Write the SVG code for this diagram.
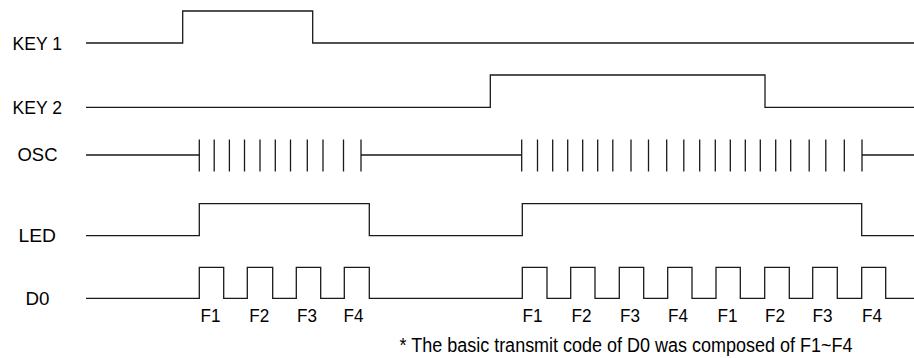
<svg xmlns="http://www.w3.org/2000/svg" width="914" height="358" viewBox="0 0 914 358">
<style>
.w{fill:none;stroke:#1a1a1a;stroke-width:1.3}
.lbl{font-family:"Liberation Sans",Arial,sans-serif;font-size:19px;fill:#000}
.f{font-family:"Liberation Sans",Arial,sans-serif;font-size:19px;fill:#000}
</style>
<rect width="914" height="358" fill="#fff"/>
<g id="key1">
<text class="lbl" x="12.5" y="49.5" textLength="49.5" lengthAdjust="spacingAndGlyphs">KEY 1</text>
<path class="w" d="M86,43H182.7V11H312.7V43H914"/>
</g>
<g id="key2">
<text class="lbl" x="12.5" y="114" textLength="49.5" lengthAdjust="spacingAndGlyphs">KEY 2</text>
<path class="w" d="M86,107.3H490.3V75H765V107.3H914"/>
</g>
<g id="osc">
<text class="lbl" x="17.5" y="160.5" textLength="40" lengthAdjust="spacingAndGlyphs">OSC</text>
<path class="w" d="M86,155H199.3M361,155H521.7M862,155H914"/>
<path class="w" d="M199.3,139.5V171.5M214.2,139.5V171.5M229.4,139.5V171.5M244.5,139.5V171.5M260,139.5V171.5M275.3,139.5V171.5M290.5,139.5V171.5M307.3,139.5V171.5M323,139.5V171.5M343.5,139.5V171.5M361,139.5V171.5
M521.7,139.5V171.5M537.5,139.5V171.5M552.7,139.5V171.5M567.7,139.5V171.5M582.7,139.5V171.5M597.7,139.5V171.5M612.8,139.5V171.5M631,139.5V171.5M648.5,139.5V171.5M666.7,139.5V171.5M683.8,139.5V171.5M699.7,139.5V171.5M715.3,139.5V171.5M730.3,139.5V171.5M745.3,139.5V171.5M760.3,139.5V171.5M775.7,139.5V171.5M790.7,139.5V171.5M809.2,139.5V171.5M825.8,139.5V171.5M844.3,139.5V171.5M862,139.5V171.5"/>
</g>
<g id="led">
<text class="lbl" x="18.5" y="242" textLength="37.5" lengthAdjust="spacingAndGlyphs">LED</text>
<path class="w" d="M86,235.7H199.3V203.7H369.3V235.7H522.3V203.7H861.7V235.7H914"/>
</g>
<g id="d0">
<text class="lbl" x="25.5" y="304.5" textLength="24" lengthAdjust="spacingAndGlyphs">D0</text>
<path class="w" d="M86,298.3H199.3V267.3H223.7V298.3H247.3V267.3H272.7V298.3H296.3V267.3H320.7V298.3H344.3V267.3H369.3V298.3H522.3V267.3H547V298.3H570.7V267.3H595V298.3H619.3V267.3H643.7V298.3H667.7V267.3H692V298.3H716V267.3H740.3V298.3H764.7V267.3H789.3V298.3H812.7V267.3H837.3V298.3H861.7V267.3H885.7V298.3H914"/>
<g class="f">
<text x="200.5" y="321.5" textLength="20" lengthAdjust="spacingAndGlyphs">F1</text>
<text x="249.3" y="321.5" textLength="20" lengthAdjust="spacingAndGlyphs">F2</text>
<text x="297" y="321.5" textLength="20" lengthAdjust="spacingAndGlyphs">F3</text>
<text x="343.5" y="321.5" textLength="20" lengthAdjust="spacingAndGlyphs">F4</text>
<text x="522.5" y="321.5" textLength="20" lengthAdjust="spacingAndGlyphs">F1</text>
<text x="571.5" y="321.5" textLength="20" lengthAdjust="spacingAndGlyphs">F2</text>
<text x="620" y="321.5" textLength="20" lengthAdjust="spacingAndGlyphs">F3</text>
<text x="668" y="321.5" textLength="20" lengthAdjust="spacingAndGlyphs">F4</text>
<text x="717.5" y="321.5" textLength="20" lengthAdjust="spacingAndGlyphs">F1</text>
<text x="765" y="321.5" textLength="20" lengthAdjust="spacingAndGlyphs">F2</text>
<text x="812.5" y="321.5" textLength="20" lengthAdjust="spacingAndGlyphs">F3</text>
<text x="862" y="321.5" textLength="20" lengthAdjust="spacingAndGlyphs">F4</text>
</g>
</g>
<text class="lbl" x="399.5" y="351.5" textLength="453" lengthAdjust="spacingAndGlyphs" style="font-size:20px">* The basic transmit code of D0 was composed of F1~F4</text>
</svg>
